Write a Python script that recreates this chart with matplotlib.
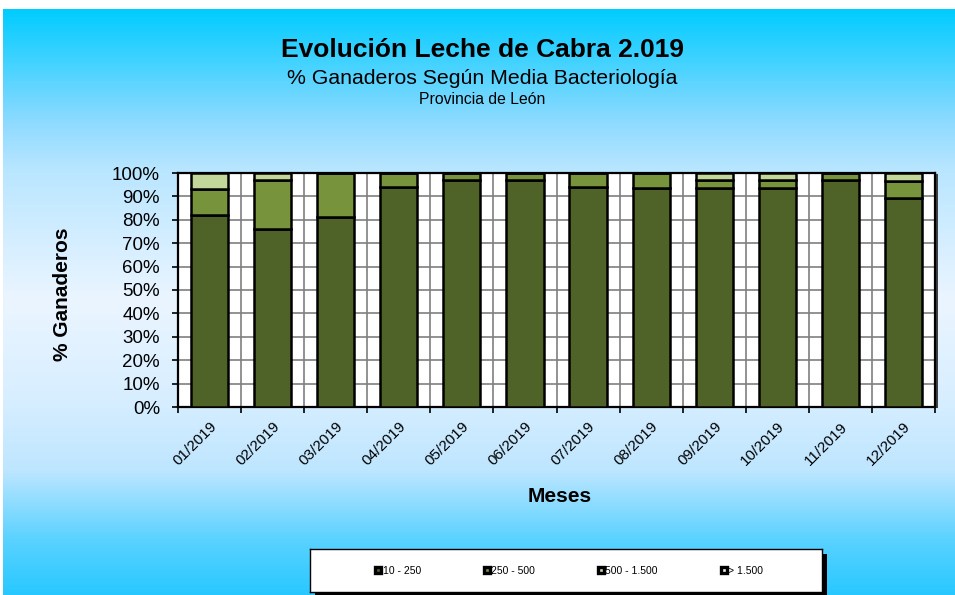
import numpy as np
import matplotlib
matplotlib.use("Agg")
import matplotlib.pyplot as plt
from matplotlib.patches import Rectangle
from matplotlib.lines import Line2D

plt.rcParams['font.family'] = ['Liberation Sans', 'DejaVu Sans']

# data (% of farmers per bacteriology range)
meses = ['01/2019', '02/2019', '03/2019', '04/2019', '05/2019', '06/2019',
         '07/2019', '08/2019', '09/2019', '10/2019', '11/2019', '12/2019']
r10_250 = [82.1, 75.9, 81.3, 93.9, 97.0, 97.0, 94.0, 93.5, 93.8, 93.8, 96.9, 89.3]
r250_500 = [11.1, 21.0, 18.7, 6.1, 3.0, 3.0, 6.0, 6.5, 3.1, 3.1, 3.1, 7.1]
r500_1500 = [6.8, 3.1, 0, 0, 0, 0, 0, 0, 3.1, 3.1, 0, 3.6]
r_1500 = [0, 0, 0, 0, 0, 0, 0, 0, 0, 0, 0, 0]
series = [r10_250, r250_500, r500_1500, r_1500]
etiquetas = ['10 - 250', '250 - 500', '500 - 1.500', '> 1.500']
colores = ['#4F6228', '#77933C', '#C4D79B', '#EBF1DE']

W, H = 955, 595
fig = plt.figure(figsize=(W / 100, H / 100), dpi=100)
fig.patch.set_facecolor('white')

# background gradient (blue - light - blue)
bg = fig.add_axes([3 / W, 0, 1 - 3 / W, 1 - 9 / H], zorder=-10)
ys = np.array([9, 120, 170, 300, 400, 470, 540, 595])
cs = np.array([[0, 204, 255], [140, 218, 255], [185, 230, 255], [235, 245, 255],
               [215, 238, 255], [190, 230, 255], [90, 210, 255], [40, 200, 255]]) / 255.
yy = np.arange(9, 596)
grad = np.stack([np.interp(yy, ys, cs[:, k]) for k in range(3)], axis=1)
bg.imshow(grad[:, None, :], aspect='auto', extent=[0, 1, 0, 1])
bg.axis('off')

# titles
fig.text(482 / W, 1 - 50 / H, 'Evolución Leche de Cabra 2.019', ha='center', va='center',
         fontsize=19, fontweight='bold')
fig.text(482 / W, 1 - 78 / H, '% Ganaderos Según Media Bacteriología', ha='center', va='center',
         fontsize=15.3)
fig.text(482 / W, 1 - 99 / H, 'Provincia de León', ha='center', va='center', fontsize=11.3)

# plot area with a small shadow
left, right, top, bottom = 178, 935, 173, 407
fig.patches.append(Rectangle(((left + 3) / W, 1 - (bottom + 1) / H), (right - left) / W,
                             (bottom - top) / H, transform=fig.transFigure,
                             facecolor='#404040', edgecolor='none', zorder=-5))
ax = fig.add_axes([left / W, 1 - bottom / H, (right - left) / W, (bottom - top) / H])
ax.set_facecolor('white')

x = np.arange(len(meses))
base = np.zeros(len(meses))
for vals, col, lab in zip(series, colores, etiquetas):
    vals = np.array(vals)
    if vals.sum() > 0:
        ax.bar(x, vals, 0.59, bottom=base, color=col, edgecolor='black', linewidth=1.8,
               label=lab, zorder=3)
    base = base + vals

ax.set_xlim(-0.5, len(meses) - 0.5)
ax.set_ylim(0, 100)
ax.set_yticks(np.arange(0, 101, 10))
ax.set_yticklabels([f'{v}%' for v in range(0, 101, 10)], fontsize=13.5)
ax.set_xticks(x)
ax.set_xticklabels(meses, rotation=45, ha='right', rotation_mode='anchor', fontsize=11)
ax.set_xticks(np.arange(-0.5, len(meses), 1), minor=True)
ax.tick_params(axis='x', which='major', length=0, pad=9)
ax.tick_params(axis='x', which='minor', length=4, width=1.2, direction='out')
ax.tick_params(axis='y', length=4, width=1.2, direction='out', pad=9)
ax.grid(axis='y', which='major', color='#7f7f7f', linewidth=1.2, zorder=1)
ax.grid(axis='x', which='minor', color='#7f7f7f', linewidth=1.2, zorder=1)
ax.set_axisbelow(True)
for s in ax.spines.values():
    s.set_linewidth(1.6)
    s.set_color('black')

fig.text(62 / W, 1 - 294 / H, '% Ganaderos', rotation=90, ha='center', va='center',
         fontsize=15, fontweight='bold')
fig.text(560 / W, 1 - 497 / H, 'Meses', ha='center', va='center', fontsize=15,
         fontweight='bold')

# legend box with shadow
lx0, lx1, ly0, ly1 = 310, 822, 549, 592
fig.patches.append(Rectangle(((lx0 + 5) / W, 1 - (ly1 + 5) / H), (lx1 - lx0) / W,
                             (ly1 - ly0) / H, transform=fig.transFigure,
                             facecolor='black', edgecolor='none', zorder=-4))
lax = fig.add_axes([lx0 / W, 1 - ly1 / H, (lx1 - lx0) / W, (ly1 - ly0) / H])
lax.set_facecolor('white')
lax.set_xticks([])
lax.set_yticks([])
for s in lax.spines.values():
    s.set_linewidth(1.0)
handles = [Line2D([], [], linestyle='none', marker='s', markersize=5.0, markerfacecolor=c,
                  markeredgecolor='black', markeredgewidth=2.4) for c in colores]
lax.legend(handles, etiquetas, loc='center', bbox_to_anchor=(0.506, 0.5), ncol=4,
           frameon=False, fontsize=7.5, handlelength=0.6, handletextpad=0.15,
           columnspacing=6.0)

fig.savefig('out.png', dpi=100)
